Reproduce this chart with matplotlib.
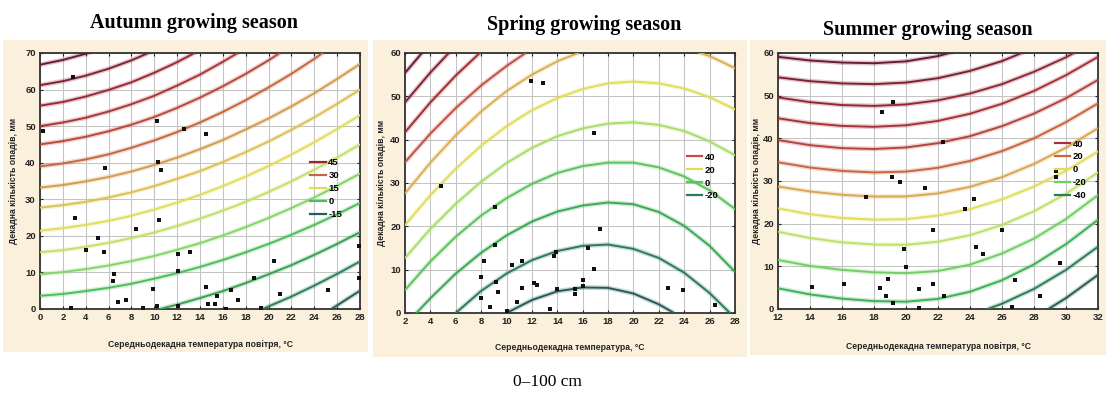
import matplotlib
matplotlib.use("Agg")
import matplotlib.pyplot as plt
from matplotlib.lines import Line2D
from matplotlib.patches import Rectangle

# ---------------- text ----------------
titles = ["Autumn growing season", "Spring growing season", "Summer growing season"]
x_labels = ["Середньодекадна температура повітря, °C",
            "Середньодекадна температура, °C",
            "Середньодекадна температура повітря, °C"]
y_label = "Декадна кількість опадів, мм"
caption = "0–100 cm"

# ---------------- Autumn ----------------
autumn_levels = [55, 50, 45, 40, 35, 30, 25, 20, 15, 10, 5, 0, -5, -10, -15]
autumn_legend = [45, 30, 15, 0, -15]
autumn_xticks = list(range(0, 29, 2))
autumn_yticks = list(range(0, 71, 10))
autumn_line_x = [
    [0, 2, 4, 6],
    [0, 2, 4, 6, 8, 10],
    [0, 2, 4, 6, 8, 10, 12, 14],
    [0, 2, 4, 6, 8, 10, 12, 14, 16, 18],
    [0, 2, 4, 6, 8, 10, 12, 14, 16, 18, 20, 22],
    [0, 2, 4, 6, 8, 10, 12, 14, 16, 18, 20, 22, 24, 26],
    [0, 2, 4, 6, 8, 10, 12, 14, 16, 18, 20, 22, 24, 26, 28],
    [0, 2, 4, 6, 8, 10, 12, 14, 16, 18, 20, 22, 24, 26, 28],
    [0, 2, 4, 6, 8, 10, 12, 14, 16, 18, 20, 22, 24, 26, 28],
    [0, 2, 4, 6, 8, 10, 12, 14, 16, 18, 20, 22, 24, 26, 28],
    [0, 2, 4, 6, 8, 10, 12, 14, 16, 18, 20, 22, 24, 26, 28],
    [0, 2, 4, 6, 8, 10, 12, 14, 16, 18, 20, 22, 24, 26, 28],
    [10.5, 12, 14, 16, 18, 20, 22, 24, 26, 28],
    [19.5, 20, 22, 24, 26, 28],
    [25.5, 26, 28],
]
autumn_line_y = [
    [66.8, 68.1, 69.8, 72.0],
    [61.2, 62.3, 63.8, 65.7, 68.0, 70.7],
    [55.6, 56.6, 58.1, 59.9, 62.0, 64.6, 67.5, 70.8],
    [50.0, 51.0, 52.3, 54.0, 56.0, 58.3, 61.1, 64.1, 67.6, 71.3],
    [45.0, 45.9, 47.1, 48.6, 50.4, 52.5, 55.0, 57.8, 60.9, 64.3, 68.0, 72.1],
    [39.0, 39.8, 40.9, 42.3, 44.1, 46.1, 48.4, 51.0, 53.9, 57.1, 60.6, 64.3, 68.4, 72.8],
    [33.2, 33.9, 34.9, 36.1, 37.6, 39.4, 41.4, 43.7, 46.2, 49.1, 52.1, 55.4, 59.0, 62.9, 67.0],
    [27.7, 28.4, 29.3, 30.5, 31.9, 33.6, 35.6, 37.7, 40.2, 42.9, 45.8, 49.0, 52.4, 56.1, 60.0],
    [21.4, 22.1, 23.0, 24.1, 25.5, 27.2, 29.1, 31.2, 33.6, 36.2, 39.1, 42.2, 45.6, 49.2, 53.0],
    [15.5, 16.1, 17.0, 18.1, 19.4, 20.9, 22.7, 24.7, 26.9, 29.3, 32.0, 34.9, 38.1, 41.4, 45.0],
    [9.5, 10.1, 10.9, 11.9, 13.1, 14.5, 16.2, 18.0, 20.1, 22.4, 24.9, 27.6, 30.5, 33.7, 37.0],
    [3.6, 4.1, 4.9, 5.8, 6.9, 8.3, 9.8, 11.5, 13.4, 15.5, 17.8, 20.3, 23.0, 25.9, 29.0],
    [0.0, 1.2, 3.0, 4.9, 7.1, 9.5, 12.0, 14.8, 17.8, 21.0],
    [0.0, 0.7, 3.4, 6.4, 9.6, 13.0],
    [0.0, 1.0, 5.0],
]
autumn_pts_x = [0.26, 2.9, 10.2, 12.6, 14.5, 10.3, 10.6, 5.7, 3.1, 10.4, 8.4, 5.1, 4.0, 5.6,
                12.1, 13.1, 12.1, 6.5, 6.4, 20.5, 18.7, 9.9, 14.5, 16.7, 15.5, 17.3, 21.0,
                25.2, 6.8, 7.5, 14.7, 15.3, 10.2, 12.1, 2.7, 9.0, 16.3, 19.3, 27.9, 27.9]
autumn_pts_y = [48.6, 63.5, 51.4, 49.1, 47.9, 40.3, 37.9, 38.6, 25.0, 24.3, 22.0, 19.4, 16.2, 15.5,
                15.0, 15.5, 10.5, 9.7, 7.7, 13.2, 8.5, 5.4, 5.9, 5.3, 3.6, 2.5, 4.1,
                5.3, 2.0, 2.5, 1.5, 1.5, 0.9, 0.9, 0.3, 0.2, 0.1, 0.4, 17.3, 8.4]

# ---------------- Spring ----------------
spring_levels = [70, 60, 50, 40, 30, 20, 10, 0, -10, -20, -30]
spring_legend = [40, 20, 0, -20]
spring_xticks = list(range(2, 29, 2))
spring_yticks = list(range(0, 61, 10))
spring_line_x = [
    [2, 4],
    [2, 4, 6],
    [2, 4, 6, 8, 10],
    [2, 4, 6, 8, 10, 12],
    [2, 4, 6, 8, 10, 12, 14, 16, 18, 20, 22, 24, 26, 28],
    [2, 4, 6, 8, 10, 12, 14, 16, 18, 20, 22, 24, 26, 28],
    [2, 4, 6, 8, 10, 12, 14, 16, 18, 20, 22, 24, 26, 28],
    [2, 4, 6, 8, 10, 12, 14, 16, 18, 20, 22, 24, 26, 28],
    [2.9, 4, 6, 8, 10, 12, 14, 16, 18, 20, 22, 24, 26, 28],
    [6, 8, 10, 12, 14, 16, 18, 20, 22, 24, 26, 27.6],
    [10, 12, 14, 16, 18, 20, 22, 23.2],
]
spring_line_y = [
    [55.4, 62.3],
    [48.6, 55.5, 61.7],
    [41.7, 48.6, 54.8, 60.3, 65.0],
    [34.8, 41.4, 47.3, 52.5, 57.0, 61.0],
    [27.6, 34.7, 41.0, 46.5, 51.2, 55.0, 58.1, 60.4, 61.8, 62.5, 62.3, 61.2, 59.3, 56.5],
    [20.3, 27.2, 33.3, 38.6, 43.1, 46.8, 49.6, 51.7, 53.0, 53.4, 53.0, 51.8, 49.8, 47.0],
    [12.7, 19.4, 25.2, 30.3, 34.6, 38.1, 40.8, 42.6, 43.7, 44.0, 43.4, 42.0, 39.6, 36.4],
    [5.3, 11.9, 17.6, 22.5, 26.5, 29.8, 32.3, 33.9, 34.7, 34.7, 33.6, 31.5, 28.3, 24.0],
    [0.0, 3.4, 9.1, 13.9, 17.9, 21.1, 23.4, 24.8, 25.5, 25.1, 23.3, 20.1, 15.5, 9.5],
    [0.0, 5.1, 9.1, 12.2, 14.3, 15.5, 15.8, 14.8, 12.7, 9.3, 4.6, 0.0],
    [0.0, 3.0, 5.0, 5.9, 5.8, 4.5, 2.0, 0.0],
]
spring_pts_x = [11.9, 12.9, 16.9, 4.8, 9.1, 17.4, 9.1, 13.9, 13.7, 16.4, 8.2, 11.2, 10.4, 16.9,
                8.0, 9.2, 12.2, 12.4, 16.05, 16.05, 9.35, 11.2, 14.0, 15.4, 15.4, 8.0, 8.7,
                10.85, 13.4, 10.0, 22.75, 23.9, 26.4]
spring_pts_y = [53.6, 53.0, 41.6, 29.3, 24.5, 19.5, 15.6, 14.1, 13.2, 15.1, 12.0, 12.0, 11.0, 10.1,
                8.4, 7.2, 7.0, 6.4, 7.7, 6.3, 4.9, 5.8, 5.6, 5.6, 4.5, 3.5, 1.5,
                2.6, 0.9, 0.4, 5.8, 5.2, 1.9]

# ---------------- Summer ----------------
summer_levels = [70, 60, 50, 40, 30, 20, 10, 0, -10, -20, -30, -40, -50]
summer_legend = [40, 20, 0, -20, -40]
summer_xticks = list(range(12, 33, 2))
summer_yticks = list(range(0, 61, 10))
summer_line_x = [
    [12, 14, 16, 18, 20, 22, 24],
    [12, 14, 16, 18, 20, 22, 24, 26, 28],
    [12, 14, 16, 18, 20, 22, 24, 26, 28, 30, 32],
    [12, 14, 16, 18, 20, 22, 24, 26, 28, 30, 32],
    [12, 14, 16, 18, 20, 22, 24, 26, 28, 30, 32],
    [12, 14, 16, 18, 20, 22, 24, 26, 28, 30, 32],
    [12, 14, 16, 18, 20, 22, 24, 26, 28, 30, 32],
    [12, 14, 16, 18, 20, 22, 24, 26, 28, 30, 32],
    [12, 14, 16, 18, 20, 22, 24, 26, 28, 30, 32],
    [12, 14, 16, 18, 20, 22, 24, 26, 28, 30, 32],
    [12, 14, 16, 18, 20, 22, 24, 26, 28, 30, 32],
    [25.1, 26, 28, 30, 32],
    [28.9, 30, 32],
]
summer_line_y = [
    [59.1, 58.25, 57.76, 57.6, 58.04, 59.28, 61.3],
    [54.3, 53.4, 52.87, 52.7, 53.07, 54.1, 55.8, 58.1, 61.2],
    [49.6, 48.47, 47.8, 47.6, 47.94, 48.9, 50.5, 52.7, 55.6, 59.0, 63.1],
    [44.7, 43.57, 42.9, 42.7, 43.06, 44.09, 45.77, 48.1, 51.1, 54.8, 59.1],
    [39.6, 38.4, 37.7, 37.5, 37.86, 38.87, 40.5, 42.85, 45.8, 49.4, 53.7],
    [34.4, 33.15, 32.36, 32.01, 32.2, 33.1, 34.7, 37.0, 40.0, 43.8, 48.2],
    [28.7, 27.55, 26.76, 26.36, 26.38, 27.1, 28.63, 30.9, 34.0, 37.8, 42.4],
    [23.6, 22.2, 21.34, 20.93, 21.05, 21.9, 23.4, 25.7, 28.7, 32.4, 36.9],
    [18.1, 16.63, 15.63, 15.1, 15.05, 15.77, 17.3, 19.7, 22.9, 27.0, 32.0],
    [11.5, 10.1, 9.17, 8.6, 8.4, 8.9, 10.4, 13.0, 16.5, 21.1, 26.7],
    [4.85, 3.42, 2.43, 1.85, 1.71, 2.37, 4.05, 6.74, 10.45, 15.2, 20.9],
    [0.0, 1.24, 4.71, 9.17, 14.6],
    [0.0, 2.56, 8.0],
]
summer_pts_x = [19.2, 18.5, 22.3, 19.1, 19.6, 21.2, 17.5, 24.25, 23.7, 29.4, 29.4, 21.7, 26.0,
                24.4, 24.8, 19.9, 20.0, 29.6, 14.1, 16.1, 18.9, 18.4, 20.8, 21.7, 26.8,
                18.75, 22.4, 19.2, 20.8, 28.4, 26.6]
summer_pts_y = [48.6, 46.1, 39.1, 30.9, 29.7, 28.4, 26.3, 25.7, 23.4, 32.3, 31.0, 18.4, 18.5,
                14.6, 12.8, 14.0, 9.8, 10.7, 5.2, 5.9, 7.0, 5.0, 4.8, 5.9, 6.8,
                3.0, 3.0, 1.3, 0.2, 3.0, 0.5]

# ---------------- styles ----------------
autumn_colors = ["#6a1830", "#82202f", "#9a2833", "#ab3436", "#b9473a", "#c4663e", "#d39b4b",
                 "#dcc152", "#e2dc58", "#c2e066", "#86d468", "#4cbd58", "#35a052", "#2b7f55", "#275f52"]
spring_colors = ["#6a1830", "#84202f", "#a02c34", "#c0503f", "#dcae50", "#e1dc58", "#a9dc68",
                 "#5cc35c", "#3aa852", "#2a7a58", "#235a58"]
summer_colors = ["#6a1830", "#7e1f31", "#922634", "#a53036", "#b5433a", "#c7653f", "#dba650",
                 "#e3dc5a", "#bfe067", "#6fcf60", "#3fb055", "#2b7d55", "#265c52"]

W, H = 1107, 394
fig = plt.figure(figsize=(W / 100, H / 100), dpi=100)
fig.patch.set_facecolor("white")

# beige panel backgrounds (pixel boxes: x0, top, x1, bottom)
for (x0, t, x1, b) in [(3, 40, 368, 352), (373, 40, 747, 357), (750, 40, 1106, 355)]:
    fig.add_artist(Rectangle((x0 / W, 1 - b / H), (x1 - x0) / W, (b - t) / H,
                             transform=fig.transFigure, facecolor="#fbf0dc",
                             edgecolor="none", zorder=0))


def ax_box(l, r, t, b):
    return [l / W, 1 - b / H, (r - l) / W, (b - t) / H]


tick_font = dict(family="Liberation Sans", weight="bold", size=6.8)
label_font = dict(family="Liberation Sans", weight="bold", size=6.2)

panels = [
    dict(box=ax_box(40, 360, 53, 309), lx=autumn_line_x, ly=autumn_line_y, colors=autumn_colors,
         levels=autumn_levels, legend=autumn_legend, px=autumn_pts_x, py=autumn_pts_y,
         xticks=autumn_xticks, yticks=autumn_yticks, leg_pos=(0.845, 0.588),
         ylab_x=-0.07, xlab_y=-0.122),
    dict(box=ax_box(405, 735, 53, 313), lx=spring_line_x, ly=spring_line_y, colors=spring_colors,
         levels=spring_levels, legend=spring_legend, px=spring_pts_x, py=spring_pts_y,
         xticks=spring_xticks, yticks=spring_yticks, leg_pos=(0.855, 0.617),
         ylab_x=-0.058, xlab_y=-0.116),
    dict(box=ax_box(778, 1098, 53, 309), lx=summer_line_x, ly=summer_line_y, colors=summer_colors,
         levels=summer_levels, legend=summer_legend, px=summer_pts_x, py=summer_pts_y,
         xticks=summer_xticks, yticks=summer_yticks, leg_pos=(0.865, 0.662),
         ylab_x=-0.052, xlab_y=-0.128),
]

for i, p in enumerate(panels):
    ax = fig.add_axes(p["box"])
    ax.set_facecolor("white")
    for xs, ys, c in zip(p["lx"], p["ly"], p["colors"]):
        ax.plot(xs, ys, color=c, lw=3.4, alpha=0.25, solid_capstyle="butt", zorder=2)
        ax.plot(xs, ys, color=c, lw=1.35, zorder=3)
    ax.scatter(p["px"], p["py"], s=6.5, marker="s", color="#111111", linewidths=0, zorder=5)
    ax.set_xlim(p["xticks"][0], p["xticks"][-1])
    ax.set_ylim(p["yticks"][0], p["yticks"][-1])
    ax.set_xticks(p["xticks"])
    ax.set_yticks(p["yticks"])
    ax.set_xticklabels([str(v) for v in p["xticks"]], fontdict=tick_font)
    ax.set_yticklabels([str(v) for v in p["yticks"]], fontdict=tick_font)
    ax.grid(True, color="#c4c4c4", lw=0.75, zorder=1)
    ax.set_axisbelow(True)
    ax.tick_params(direction="in", length=2.5, width=0.8, pad=3, colors="#222222",
                   top=True, right=True)
    for s in ax.spines.values():
        s.set_color("#333333")
        s.set_linewidth(1.3)
    ax.set_xlabel(x_labels[i], fontdict=label_font, color="#222222")
    ax.set_ylabel(y_label, fontdict=label_font, color="#222222")
    ax.xaxis.set_label_coords(0.5, p["xlab_y"])
    ax.yaxis.set_label_coords(p["ylab_x"], 0.5)
    handles = [Line2D([], [], color=p["colors"][p["levels"].index(lv)], lw=1.6) for lv in p["legend"]]
    ax.legend(handles, [str(lv) for lv in p["legend"]], loc="upper left",
              bbox_to_anchor=p["leg_pos"], frameon=False, handlelength=1.6,
              handletextpad=0.3, labelspacing=0.42, borderaxespad=0, borderpad=0,
              prop=dict(family="Liberation Sans", weight="bold", size=6.8))

title_pos = [(194, 23), (584, 25), (928, 30)]
for t, (x, y) in zip(titles, title_pos):
    fig.text(x / W, 1 - y / H, t, ha="center", va="center", family="Liberation Serif",
             weight="bold", size=14.5, color="black")

fig.text(547 / W, 1 - 382 / H, caption, ha="center", va="center",
         family="Liberation Serif", size=12.5, color="black")

fig.savefig("out.png", dpi=100, facecolor="white")
